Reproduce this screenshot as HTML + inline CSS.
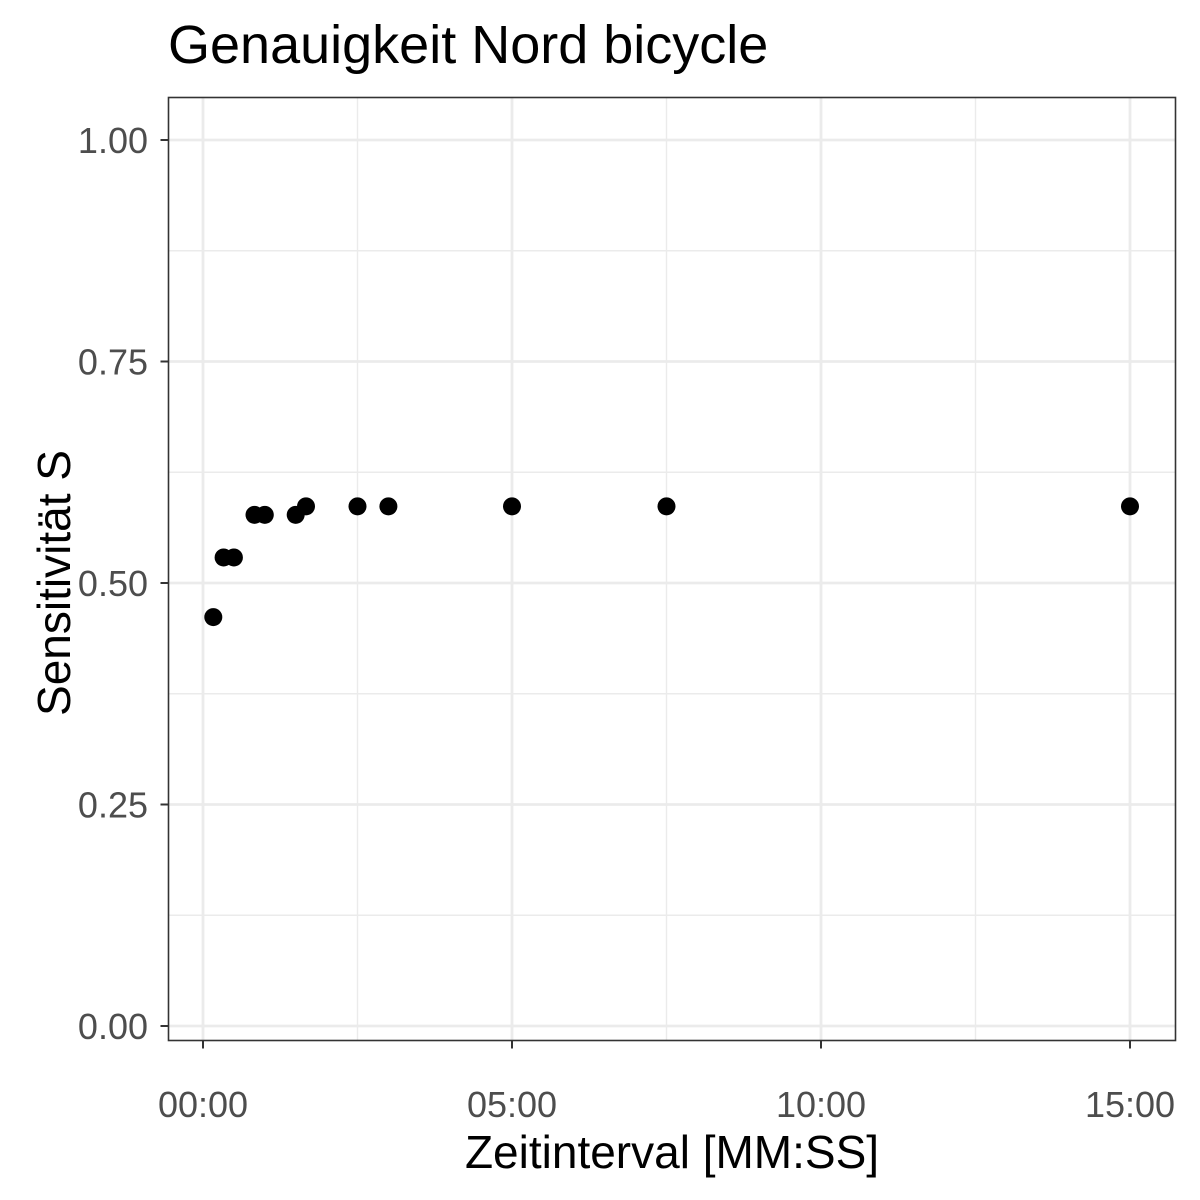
<!DOCTYPE html>
<html><head><meta charset="utf-8">
<style>
body{margin:0;background:#fff;}
svg{display:block;font-family:"Liberation Sans",Arial,sans-serif;}
</style></head>
<body>
<svg id="chart" width="1200" height="1200" viewBox="0 0 1200 1200">
<rect width="1200" height="1200" fill="#fff"/>
<text x="168" y="63" font-size="54" fill="#000">Genauigkeit Nord bicycle</text>
<g id="grid"></g>
<g id="points"></g>
<rect x="168.5" y="97.5" width="1007" height="943" fill="none" stroke="#333" stroke-width="1.6"/>
<g id="axes"></g>
<text x="672" y="1168" font-size="46" text-anchor="middle" fill="#000">Zeitinterval [MM:SS]</text>
<text transform="translate(70,583) rotate(-90)" font-size="46" text-anchor="middle" fill="#000">Sensitivität S</text>
</svg>
<script>
const xSeconds = [10, 20, 30, 50, 60, 90, 100, 150, 180, 300, 450, 900];
const ySens = [0.4615, 0.5288, 0.5288, 0.5769, 0.5769, 0.5769, 0.5865, 0.5865, 0.5865, 0.5865, 0.5865, 0.5865];
const xTicks = [0, 300, 600, 900];
const xTickLabels = ["00:00", "05:00", "10:00", "15:00"];
const xMinor = [150, 450, 750];
const yTicks = [0, 0.25, 0.5, 0.75, 1.0];
const yTickLabels = ["0.00", "0.25", "0.50", "0.75", "1.00"];
const yMinor = [0.125, 0.375, 0.625, 0.875];

const NS = "http://www.w3.org/2000/svg";
const X = s => 203 + s * (309 / 300);
const Y = v => 1026 - v * 886;
const PL = 168.5, PR = 1175.5, PT = 97.5, PB = 1040.5;
function mk(tag, attrs, parent) {
  const e = document.createElementNS(NS, tag);
  for (const k in attrs) e.setAttribute(k, attrs[k]);
  parent.appendChild(e); return e;
}
const grid = document.getElementById('grid');
const axes = document.getElementById('axes');
const pts = document.getElementById('points');
xMinor.forEach(s => {
  const l = mk('line', {x1: X(s), x2: X(s), y1: PT, y2: PB, stroke: '#ebebeb', 'stroke-width': 1.4}, grid);
  
  
});
yMinor.forEach(v => {
  const l = mk('line', {x1: PL, x2: PR, y1: Y(v), y2: Y(v), stroke: '#ebebeb', 'stroke-width': 1.4}, grid);
  
  
});
xTicks.forEach((s, i) => {
  const l = mk('line', {x1: X(s), x2: X(s), y1: PT, y2: PB, stroke: '#ebebeb', 'stroke-width': 2.8}, grid);
  
  
  const t = mk('line', {x1: X(s), x2: X(s), y1: PB, y2: PB + 8, stroke: '#333', 'stroke-width': 2}, axes);
  
  
  const tx = mk('text', {x: X(s), y: 1117, 'font-size': 36, 'text-anchor': 'middle', fill: '#4d4d4d'}, axes);
  tx.textContent = xTickLabels[i];
  
  
});
yTicks.forEach((v, i) => {
  const l = mk('line', {x1: PL, x2: PR, y1: Y(v), y2: Y(v), stroke: '#ebebeb', 'stroke-width': 2.8}, grid);
  
  
  const t = mk('line', {x1: PL - 8, x2: PL, y1: Y(v), y2: Y(v), stroke: '#333', 'stroke-width': 2}, axes);
  
  
  const tx = mk('text', {x: 148, y: Y(v) + 13, 'font-size': 36, 'text-anchor': 'end', fill: '#4d4d4d'}, axes);
  tx.textContent = yTickLabels[i];
  
  
});
xSeconds.forEach((s, i) => {
  const c = mk('circle', {cx: X(s), cy: Y(ySens[i]), r: 9, fill: '#000'}, pts);
  
  
});
</script>
</body></html>
